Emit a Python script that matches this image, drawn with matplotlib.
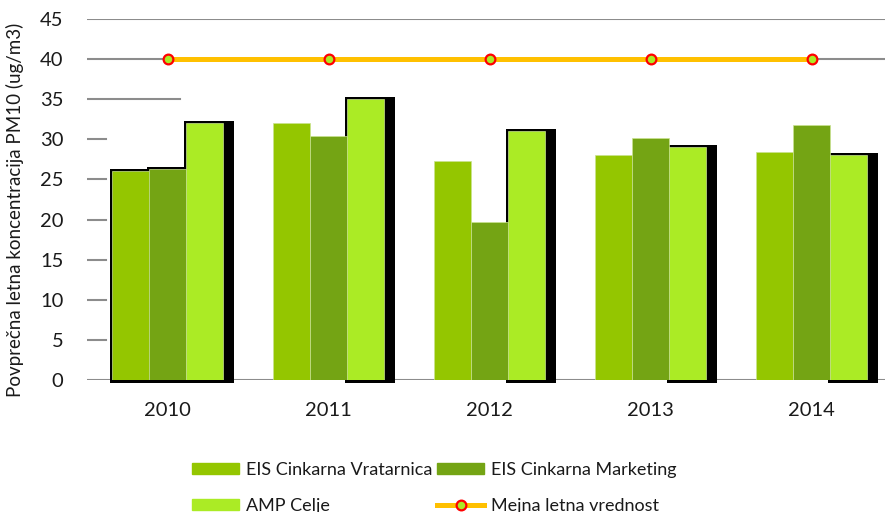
import matplotlib.pyplot as plt
from matplotlib.patches import Rectangle
from matplotlib.lines import Line2D
from matplotlib.patches import Patch
import numpy as np

plt.rcParams['font.family'] = ['Lato', 'DejaVu Sans']

years = ['2010', '2011', '2012', '2013', '2014']
vratarnica = [26.1, 32.0, 27.3, 28.0, 28.4]
marketing = [26.3, 30.4, 19.7, 30.2, 31.8]
amp_celje = [32.0, 35.0, 31.0, 29.0, 28.0]
mejna = [40, 40, 40, 40, 40]

series = [vratarnica, marketing, amp_celje]
names = ['EIS Cinkarna Vratarnica', 'EIS Cinkarna Marketing', 'AMP Celje']
colors = ['#94c600', '#74a414', '#abeb25']
# bars that carry a dark shadow in the original: (year index, series index)
shadowed = [(0, 0), (0, 1), (0, 2), (1, 2), (2, 2), (3, 2), (4, 2)]

fig = plt.figure(figsize=(8.85, 5.12), dpi=100)
ax = fig.add_axes([87 / 885, 132 / 512, 805 / 885, 361 / 512])

x = np.arange(len(years))
w = 0.23
px = 1 / 161  # one pixel in data units along x

ax.set_xlim(-0.5, 4.5)
ax.set_ylim(0, 45)

# gridlines, partly hidden as in the original
grid_c = '#8c8c8c'
for yv, xmax in [(45, 1), (40, 1), (35, 0.116), (30, 0.024), (25, 0.024),
                 (20, 0.024), (15, 0.024), (10, 0.024), (5, 0.024), (0, 1)]:
    ax.axhline(yv, xmin=0, xmax=xmax, color=grid_c, lw=1.5, zorder=0)

for j, (vals, col, name) in enumerate(zip(series, colors, names)):
    pos = x + (j - 1) * w
    for i in range(len(years)):
        if (i, j) in shadowed:
            ax.add_patch(Rectangle((pos[i] - w / 2 - 2 * px, -0.35),
                                   w + 13 * px, vals[i] + 0.6,
                                   facecolor='black', edgecolor='none',
                                   zorder=1, clip_on=False))
    ax.bar(pos, vals, w, color=col, edgecolor='#c9e38f', lw=0.5,
           zorder=2, label=name)

ax.plot(x, mejna, color='#ffc000', lw=3.6, marker='o', markersize=7,
        markerfacecolor='#abeb25', markeredgecolor='#ff0000',
        markeredgewidth=1.6, zorder=3)

for s in ax.spines.values():
    s.set_visible(False)
ax.set_xticks(x)
ax.set_xticklabels(years)
ax.set_yticks(range(0, 50, 5))
ax.tick_params(length=0, labelsize=14.5, colors='#1a1a1a')
ax.tick_params(axis='x', pad=16)
ax.tick_params(axis='y', pad=17)
ax.set_ylabel('Povprečna letna koncentracija PM10 (ug/m3)', fontsize=13.5,
              color='#1a1a1a')
ax.yaxis.set_label_coords(-0.078, 0.47)

handles = [Patch(color=colors[0]), Patch(color=colors[2]),
           Patch(color=colors[1]),
           Line2D([0], [0], color='#ffc000', lw=3.6, marker='o', markersize=7,
                  markerfacecolor='#abeb25', markeredgecolor='#ff0000',
                  markeredgewidth=1.6)]
labels = [names[0], names[2], names[1], 'Mejna letna vrednost']
fig.legend(handles, labels, ncol=2, loc='lower left',
           bbox_to_anchor=(176 / 885, -0.035), frameon=False, fontsize=13,
           handlelength=2.6, handleheight=0.6, handletextpad=0.35,
           columnspacing=0.3, labelspacing=1.1, labelcolor='#1a1a1a')

fig.savefig('out.png', dpi=100)
